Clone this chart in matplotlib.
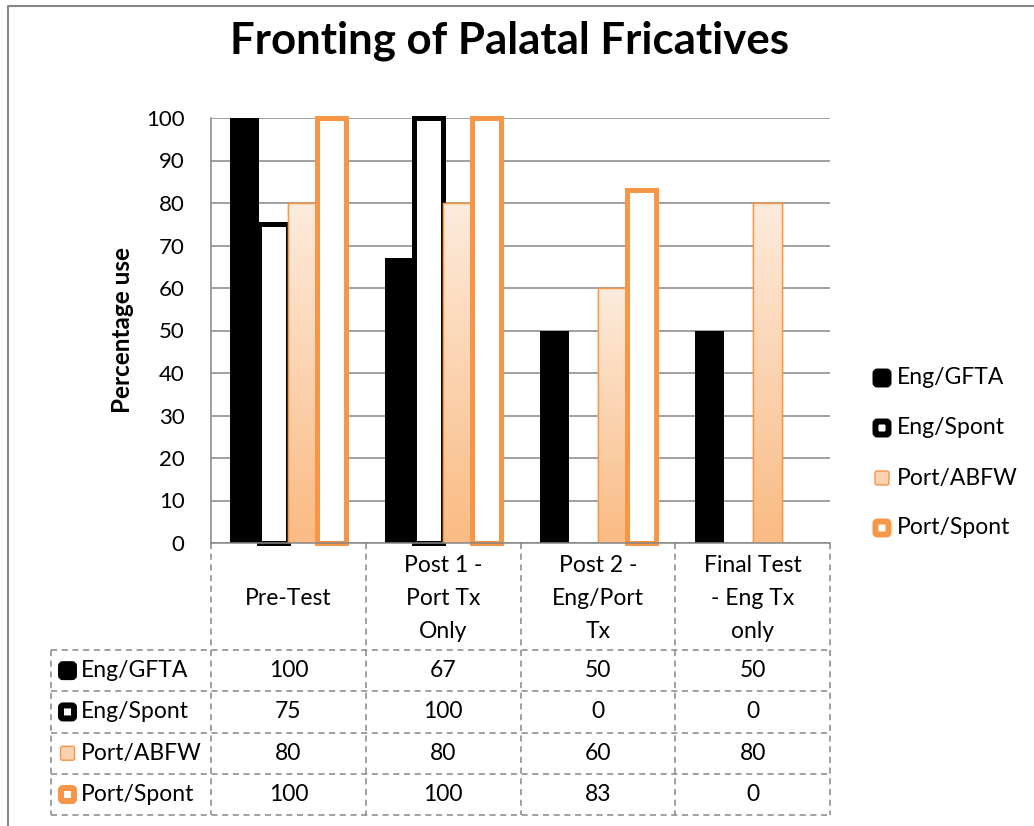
import numpy as np
import matplotlib.pyplot as plt
from matplotlib.patches import FancyBboxPatch
from matplotlib.colors import LinearSegmentedColormap

plt.rcParams['font.family'] = ['Lato', 'DejaVu Sans']

# data
categories = ['Pre-Test', 'Post 1 -\nPort Tx\nOnly', 'Post 2 -\nEng/Port\nTx', 'Final Test\n- Eng Tx\nonly']
series_names = ['Eng/GFTA', 'Eng/Spont', 'Port/ABFW', 'Port/Spont']
eng_gfta = [100, 67, 50, 50]
eng_spont = [75, 100, 0, 0]
port_abfw = [80, 80, 60, 80]
port_spont = [100, 100, 83, 0]
yticks = np.arange(0, 101, 10)

ORANGE = '#F79646'
GRID = '#868686'
ABFW_TOP = '#FDEBDC'
ABFW_BOT = '#FABB84'

W, H = 1034, 826
fig = plt.figure(figsize=(W / 100, H / 100), dpi=100)

# overlay in pixel coordinates for border, title, legend and data table
ov = fig.add_axes([0, 0, 1, 1])
ov.set_xlim(0, W)
ov.set_ylim(H, 0)
ov.axis('off')

# plot area (pixels)
px_l, px_r, px_t, px_b = 211, 830, 118, 543
ax = fig.add_axes([px_l / W, 1 - px_b / H, (px_r - px_l) / W, (px_b - px_t) / H])

x = np.arange(len(categories))
w = 0.187

b1 = ax.bar(x - 1.5 * w, eng_gfta, w, color='black', linewidth=0, zorder=3)
b2 = ax.bar(x - 0.5 * w, eng_spont, w, color='white', edgecolor='black',
            linewidth=[3.6 if v > 0 else 0 for v in eng_spont], zorder=4)
b3 = ax.bar(x + 0.5 * w, port_abfw, w, color='#FCD3B0', edgecolor=ORANGE, linewidth=1, zorder=5)
b4 = ax.bar(x + 1.5 * w, port_spont, w, color='white', edgecolor=ORANGE,
            linewidth=[3.6 if v > 0 else 0 for v in port_spont], zorder=6)

# gradient fill on the Port/ABFW bars
cmap = LinearSegmentedColormap.from_list('abfw', [ABFW_BOT, ABFW_TOP])
grad = np.linspace(0, 1, 256).reshape(-1, 1)
for bar in b3:
    x0, h = bar.get_x(), bar.get_height()
    im = ax.imshow(grad, extent=[x0, x0 + bar.get_width(), 0, h], origin='lower',
                   cmap=cmap, aspect='auto', zorder=5.1)
    im.set_clip_path(bar)
ax.bar(x + 0.5 * w, port_abfw, w, fill=False, edgecolor=ORANGE, linewidth=1, zorder=5.2)

for cont in (b1, b2, b4):
    for bar in cont:
        bar.set_clip_on(False)

ax.set_xlim(-0.5, len(categories) - 0.5)
ax.set_ylim(0, 100)
ax.set_yticks(yticks)
ax.set_xticks([])
ax.yaxis.grid(True, color=GRID, linewidth=1.1)
ax.set_axisbelow(True)
ax.tick_params(axis='y', length=0, pad=19, labelsize=16)
for s in ['top', 'right']:
    ax.spines[s].set_visible(False)
for s in ['left', 'bottom']:
    ax.spines[s].set_color(GRID)
    ax.spines[s].set_linewidth(1.1)
    ax.spines[s].set_zorder(7)


def draw_key(a, xc, yc, style):
    # little rounded legend keys, same look as the excel ones
    if style == 2:
        s, fc, ec, lw = 14, '#FCD3B0', ORANGE, 1
    else:
        s = 13
        fc = ['black', 'white', None, 'white'][style]
        ec = ['black', 'black', None, ORANGE][style]
        lw = 4.3
    a.add_patch(FancyBboxPatch((xc - s / 2, yc - s / 2), s, s,
                               boxstyle='round,pad=0,rounding_size=2',
                               facecolor=fc, edgecolor=ec, linewidth=lw))


# outer chart border
ov.plot([8, 8, W + 5], [H + 5, 6, 6], color=GRID, linewidth=1.5, clip_on=False)

fig.text(509 / W, 1 - 41 / H, 'Fronting of Palatal Fricatives', ha='center', va='center',
         fontsize=31.5, fontweight='bold')
fig.text(123 / W, 1 - 330 / H, 'Percentage use', ha='center', va='center', rotation=90,
         fontsize=17.5, fontweight='bold')

# legend
for i, name in enumerate(series_names):
    yc = 378 + i * 50
    draw_key(ov, 882, yc, i)
    ov.text(897, yc, name, ha='left', va='center', fontsize=16.5)

# data table below the axis
col_w = (px_r - px_l) / len(categories)
col_edges = [px_l + i * col_w for i in range(len(categories) + 1)]
tbl_left = 51
head_bot = 650
row_h = 41.3
rows = [eng_gfta, eng_spont, port_abfw, port_spont]
tbl_bot = head_bot + row_h * len(rows)
dash = dict(color=GRID, linewidth=1.1, linestyle=(0, (4, 3)))

for xe in col_edges:
    ov.plot([xe, xe], [px_b, tbl_bot], **dash)
ov.plot([tbl_left, tbl_left], [head_bot, tbl_bot], **dash)
for r in range(len(rows) + 1):
    ov.plot([tbl_left, px_r], [head_bot + r * row_h] * 2, **dash)

for i, c in enumerate(categories):
    ov.text(px_l + (i + 0.5) * col_w, (px_b + head_bot) / 2 + 2, c, ha='center', va='center',
            fontsize=16.5, linespacing=1.72)

for r, (name, vals) in enumerate(zip(series_names, rows)):
    yc = head_bot + (r + 0.5) * row_h
    draw_key(ov, 67.5, yc, r)
    ov.text(81, yc, name, ha='left', va='center', fontsize=16.5)
    for i, v in enumerate(vals):
        ov.text(px_l + (i + 0.5) * col_w, yc, str(v), ha='center', va='center', fontsize=16.5)

fig.savefig('out.png', dpi=100)
